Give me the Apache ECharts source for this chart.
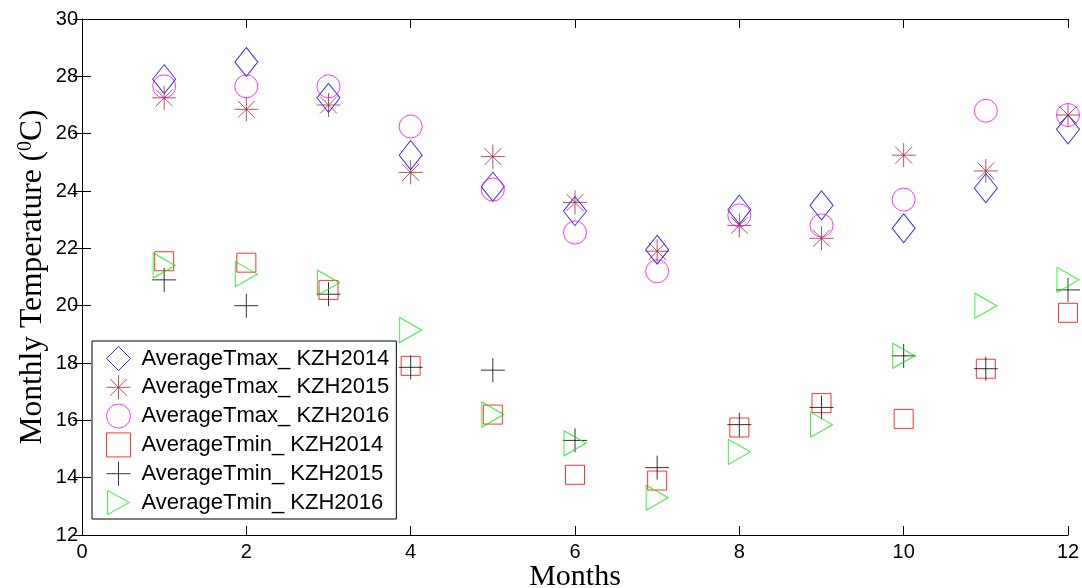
<!DOCTYPE html>
<html>
<head>
<meta charset="utf-8">
<script src="https://cdn.jsdelivr.net/npm/echarts@6/dist/echarts.min.js"></script>
<style>
html,body{margin:0;padding:0;background:#fff;}
#chart{width:1082px;height:588px;}
</style>
</head>
<body>
<div id="chart"></div>
<script>
// ---- data ----
const months = [1, 2, 3, 4, 5, 6, 7, 8, 9, 10, 11, 12];
const tmax2014 = [27.9, 28.5, 27.25, 25.25, 24.15, 23.3, 21.95, 23.35, 23.5, 22.7, 24.1, 26.15];
const tmax2015 = [27.25, 26.85, 27.0, 24.65, 25.2, 23.6, 21.9, 22.8, 22.35, 25.25, 24.7, 26.65];
const tmax2016 = [27.65, 27.65, 27.65, 26.25, 24.05, 22.55, 21.2, 23.15, 22.8, 23.7, 26.8, 26.65];
const tmin2014 = [21.55, 21.5, 20.55, 17.9, 16.2, 14.1, 13.9, 15.75, 16.6, 16.05, 17.8, 19.75];
const tmin2015 = [20.9, 20.0, 20.4, 17.85, 17.75, 15.3, 14.35, 15.85, 16.45, 18.25, 17.8, 20.55];
const tmin2016 = [21.4, 21.1, 20.8, 19.15, 16.2, 15.2, 13.3, 14.9, 15.85, 18.25, 20.0, 20.9];
const seriesNames = [
  'AverageTmax_ KZH2014', 'AverageTmax_ KZH2015', 'AverageTmax_ KZH2016',
  'AverageTmin_ KZH2014', 'AverageTmin_ KZH2015', 'AverageTmin_ KZH2016'
];

// ---- styling ----
const PLUS = 'path://M0,5 L10,5 M5,0 L5,10';
const STAR = 'path://M0,5 L10,5 M5,0 L5,10 M1.46,1.46 L8.54,8.54 M1.46,8.54 L8.54,1.46';
const TRI = 'path://M0,0 L10,5.5 L0,11 Z';
const styles = [
  {symbol: 'diamond', size: [23, 29], color: '#0000ff'},
  {symbol: STAR, size: [24, 24], color: '#a0283c'},
  {symbol: 'circle', size: 23, color: '#ff00ff'},
  {symbol: 'rect', size: 19, color: '#ff0000'},
  {symbol: PLUS, size: [24, 24], color: '#000000'},
  {symbol: TRI, size: [22, 25], color: '#00ee00'}
];
const values = [tmax2014, tmax2015, tmax2016, tmin2014, tmin2015, tmin2016];

const series = values.map((vals, i) => ({
  name: seriesNames[i],
  type: 'scatter',
  xAxisIndex: 0,
  yAxisIndex: 0,
  clip: false,
  symbol: styles[i].symbol,
  symbolSize: styles[i].size,
  data: months.map((m, j) => [m, vals[j]]),
  itemStyle: {color: 'rgba(0,0,0,0)', borderColor: styles[i].color, borderWidth: 1},
  emphasis: {disabled: true},
  animation: false
}));

const tickFont = {fontFamily: 'Liberation Sans, Arial', fontSize: 20, color: '#000'};
const axisLine = {show: true, lineStyle: {color: '#000', width: 1}};
const tick = {show: true, inside: true, length: 9, lineStyle: {color: '#000', width: 1}};

const chart = echarts.init(document.getElementById('chart'), null, {renderer: 'canvas'});
chart.setOption({
  backgroundColor: '#fff',
  animation: false,
  grid: {left: 82, right: 14, top: 19, bottom: 53, containLabel: false, outerBoundsMode: 'none'},
  xAxis: [
    {
      type: 'value', min: 0, max: 12, interval: 2, position: 'bottom',
      axisLine: axisLine, axisTick: tick, splitLine: {show: false},
      axisLabel: Object.assign({margin: 7}, tickFont),
      name: 'Months', nameLocation: 'middle', nameGap: 27, nameMoveOverlap: false,
      nameTextStyle: {fontFamily: 'Liberation Serif, Times New Roman', fontSize: 30, color: '#000'}
    },
    {
      type: 'value', min: 0, max: 12, interval: 2, position: 'top',
      axisLine: axisLine, axisTick: tick, splitLine: {show: false},
      axisLabel: {show: false}
    }
  ],
  yAxis: [
    {
      type: 'value', min: 12, max: 30, interval: 2, position: 'left',
      axisLine: axisLine, axisTick: tick, splitLine: {show: false},
      axisLabel: Object.assign({margin: 4}, tickFont),
      name: '{a|Monthly Temperature (}{b|0}{a|C)}',
      nameLocation: 'middle', nameRotate: 90, nameGap: 32, nameMoveOverlap: false,
      nameTextStyle: {
        fontFamily: 'Liberation Serif, Times New Roman', fontSize: 31.5, color: '#000',
        rich: {
          a: {fontFamily: 'Liberation Serif, Times New Roman', fontSize: 31.5, color: '#000', lineHeight: 34},
          b: {fontFamily: 'Liberation Serif, Times New Roman', fontSize: 20, color: '#000', verticalAlign: 'top', lineHeight: 20}
        }
      }
    },
    {
      type: 'value', min: 12, max: 30, interval: 2, position: 'right',
      axisLine: axisLine, axisTick: tick, splitLine: {show: false},
      axisLabel: {show: false}
    }
  ],
  legend: {
    orient: 'vertical',
    left: 92, top: 341,
    padding: [5, 7, 4, 14],
    itemWidth: 24, itemHeight: 24, itemGap: 3.8,
    backgroundColor: '#fff',
    borderColor: '#000', borderWidth: 1, borderRadius: 0,
    itemStyle: {borderWidth: 1},
    textStyle: {fontFamily: 'Liberation Sans, Arial', fontSize: 22, color: '#000', lineHeight: 24, padding: [0, 0, 0, 6]},
    data: seriesNames,
    selectedMode: false
  },
  series: series
});
</script>
</body>
</html>
